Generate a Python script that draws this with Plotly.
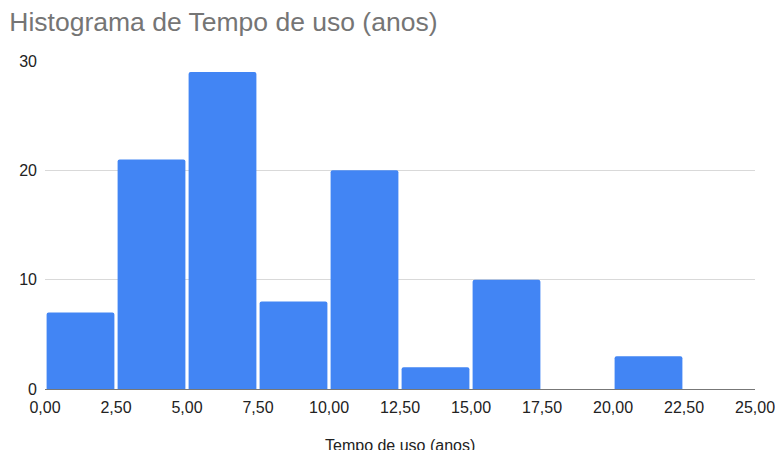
import plotly.graph_objects as go

# Histogram bins (years of use) and counts
bin_starts = [0.0, 2.5, 5.0, 7.5, 10.0, 12.5, 15.0, 17.5, 20.0, 22.5]
counts = [7, 21, 29, 8, 20, 2, 10, 0, 3, 0]
bin_width = 2.5

x_ticks = [0.0, 2.5, 5.0, 7.5, 10.0, 12.5, 15.0, 17.5, 20.0, 22.5, 25.0]
x_tick_text = [f"{v:.2f}".replace(".", ",") for v in x_ticks]
y_ticks = [0, 10, 20, 30]

centers = [s + bin_width / 2 for s in bin_starts]

fig = go.Figure(
    go.Bar(
        x=centers,
        y=counts,
        width=[bin_width * 0.955] * len(centers),
        marker=dict(color="#4285F4", line=dict(width=0)),
        hoverinfo="x+y",
    )
)

fig.update_layout(
    width=775,
    height=450,
    margin=dict(l=45, r=20, t=61, b=61, autoexpand=False),
    paper_bgcolor="white",
    plot_bgcolor="white",
    barcornerradius=2,
    font=dict(family="Liberation Sans, Arial, sans-serif", color="#222222", size=16),
    title=dict(
        text="Histograma de Tempo de uso (anos)",
        font=dict(size=26.5, color="#757575"),
        xref="container",
        yref="container",
        x=0.012,
        xanchor="left",
        y=1 - 22 / 450,
        yanchor="middle",
    ),
    showlegend=False,
)

# x-axis title placed below the tick labels, partly past the bottom edge
fig.add_annotation(
    text="Tempo de uso (anos)",
    xref="paper",
    yref="paper",
    x=0.5,
    y=0,
    xanchor="center",
    yanchor="middle",
    yshift=-56,
    showarrow=False,
    font=dict(size=16, color="#222222"),
)

fig.update_xaxes(
    range=[0, 25],
    tickvals=x_ticks,
    ticktext=x_tick_text,
    showgrid=False,
    zeroline=False,
    showline=True,
    linecolor="#777777",
    linewidth=1,
    ticks="",
    automargin=False,
    ticklabeloverflow="allow",
    ticklabelstandoff=4,
    tickfont=dict(size=16, color="#222222"),
)

fig.update_yaxes(
    range=[0, 30],
    tickvals=y_ticks,
    showgrid=True,
    gridcolor="#d9d9d9",
    gridwidth=1,
    zeroline=False,
    ticks="",
    automargin=False,
    ticklabelstandoff=7,
    tickfont=dict(size=16, color="#222222"),
)

fig.write_html("out.html")
